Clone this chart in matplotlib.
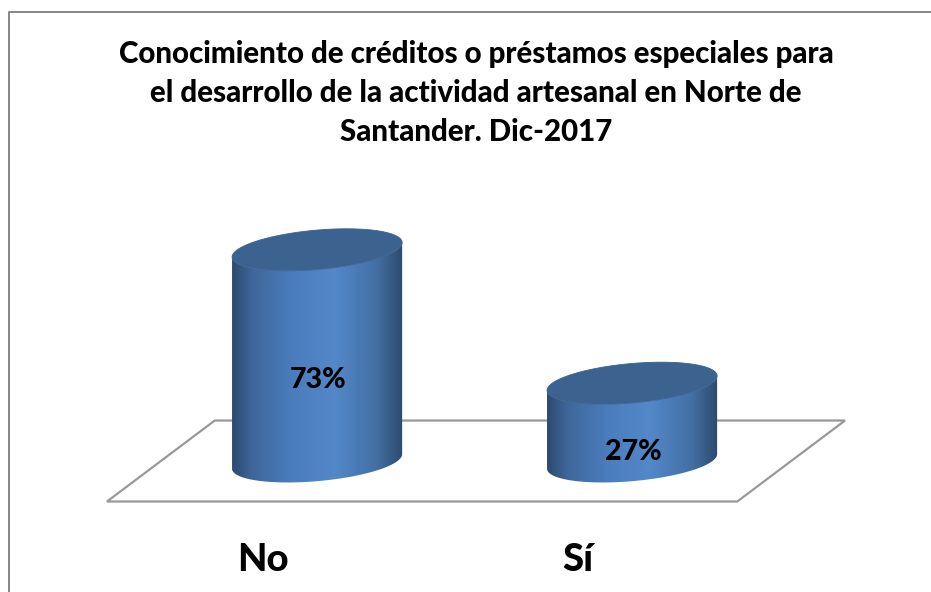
import numpy as np
from matplotlib import pyplot as plt
from matplotlib.colors import LinearSegmentedColormap
from matplotlib.lines import Line2D
from matplotlib.patches import PathPatch, Polygon
from matplotlib.path import Path

title = "Conocimiento de créditos o préstamos especiales para\nel desarrollo de la actividad artesanal en Norte de\nSantander. Dic-2017"
categories = ["No", "Sí"]
values = [73, 27]

W, H = 931, 592
FONT = "Lato"
BAR_HALF = 0.27
ELL_B = 6.8
ELL_TILT = 2.5
TICK_SHIFT = 0.171

side_cmap = LinearSegmentedColormap.from_list("side", [
    (0.0, "#2c4a6f"), (0.12, "#3f679b"), (0.35, "#4a7dbc"), (0.6, "#5388c9"),
    (0.85, "#436fa3"), (1.0, "#2c4a6e")])

plt.rcParams["font.family"] = [FONT, "DejaVu Sans"]
fig = plt.figure(figsize=(W / 100, H / 100), dpi=100, facecolor="white")

# chart frame is cut off on the right and bottom in the original
fig.add_artist(Line2D([9 / W, 9 / W, 1], [0, 1 - 12 / H, 1 - 12 / H], color="#868686", lw=1.4))

fig.text(476 / W, 1 - 93 / H, title, ha="center", va="center", fontsize=21.25,
         fontweight=900, color="black", linespacing=1.48)

ax = fig.add_axes([107 / W, 1 - 501.5 / H, 738 / W, 301 / H])
ax.patch.set_alpha(0)
xlim = (-0.667, 1.676)
ylim = (-13.8, 90)

# floor of the 3d plot
floor = Polygon([(0, 0), (0.854, 0), (1, 0.269), (0.146, 0.269)], closed=True, fill=False,
                edgecolor="#999999", lw=1.6, transform=ax.transAxes, clip_on=False, zorder=1)
ax.add_patch(floor)


def ellipse(x, y, t):
    return np.column_stack([x + BAR_HALF * np.cos(t), y + ELL_TILT * np.cos(t) + ELL_B * np.sin(t)])


for i, val in enumerate(values):
    lower = ellipse(i, 0, np.linspace(np.pi, 2 * np.pi, 80))
    upper = ellipse(i, val, np.linspace(2 * np.pi, np.pi, 80))
    body = PathPatch(Path(np.vstack([lower, upper, lower[:1]])), fc="none", ec="none")
    ax.add_patch(body)
    im = ax.imshow(np.linspace(0, 1, 256).reshape(1, -1), cmap=side_cmap, aspect="auto",
                   extent=(i - BAR_HALF, i + BAR_HALF, -12, val + 12), zorder=2)
    im.set_clip_path(body)
    top = Polygon(ellipse(i, val, np.linspace(0, 2 * np.pi, 160)), closed=True, fc="#3c628f",
                  ec="#3c628f", lw=0.6, zorder=3)
    ax.add_patch(top)
    ax.text(i + 0.003, val * 0.537 - 11.2, f"{val}%", ha="center", va="center", fontsize=20.5,
            fontweight=900, color="black", zorder=4)

ax.set_xlim(xlim)
ax.set_ylim(ylim)
ax.set_xticks([i - TICK_SHIFT for i in range(len(categories))])
ax.set_xticklabels(categories, fontsize=27.5, fontweight=900)
ax.tick_params(axis="x", length=0, pad=30)
ax.set_yticks([])
for spine in ax.spines.values():
    spine.set_visible(False)

fig.savefig("out.png", dpi=100)
